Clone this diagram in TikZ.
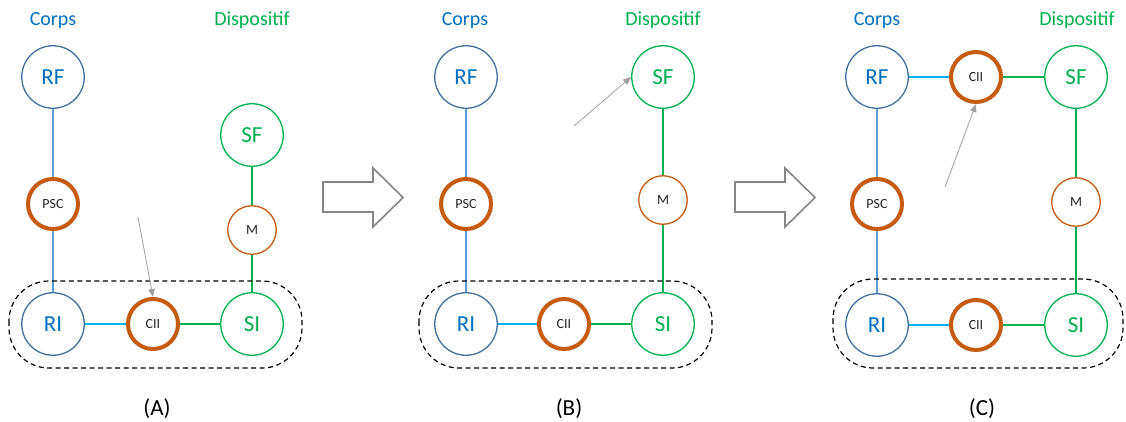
\documentclass[tikz,border=0pt]{standalone}
\usepackage{fontspec}
\setmainfont{Carlito}
\usetikzlibrary{arrows.meta,backgrounds}
\definecolor{cblue}{HTML}{0070C0}
\definecolor{cstroke}{HTML}{41719C}
\definecolor{cvline}{HTML}{5B9BD5}
\definecolor{clight}{HTML}{00B0F0}
\definecolor{cgreen}{HTML}{00B050}
\definecolor{corange}{HTML}{C55A11}
\definecolor{ctext}{HTML}{262626}
\tikzset{
  bignode/.style={circle,draw,fill=white,inner sep=0pt,minimum size=62.5pt,line width=1.3pt,font=\fontsize{23}{26}\selectfont},
  corpsnode/.style={bignode,draw=cstroke,text=cblue},
  devnode/.style={bignode,draw=cgreen,text=cgreen},
  interface/.style={circle,draw=corange,fill=white,inner sep=0pt,minimum size=50pt,line width=4pt,text=ctext,font=\fontsize{14}{16}\selectfont},
  mnode/.style={circle,draw=corange,fill=white,inner sep=0pt,minimum size=48.5pt,line width=1.3pt,text=ctext,font=\fontsize{14}{16}\selectfont},
  vblue/.style={draw=cvline,line width=1.5pt},
  hblue/.style={draw=clight,line width=2.5pt},
  hgreen/.style={draw=cgreen,line width=2.5pt},
  vgreen/.style={draw=cgreen,line width=2pt},
  zone/.style={draw=black,line width=1.2pt,dash pattern=on 5pt off 3.5pt,rounded corners=40pt},
  pointer/.style={draw=gray!75,line width=0.8pt,-{Triangle[length=8pt,width=6.5pt]}},
  bigarrow/.style={draw=gray!95,line width=1.6pt,line join=miter,fill=white},
  head/.style={font=\fontsize{20}{24}\selectfont,anchor=base},
  caption/.style={font=\fontsize{23}{26}\selectfont,anchor=base,text=black},
}
\begin{document}
\begin{tikzpicture}[x=1pt,y=-1pt]
\useasboundingbox (0,0) rectangle (1126,421);
% ---------- Panel A ----------
\node[head,text=cblue] (hA1) at (53,25) {Corps};
\node[head,text=cgreen] (hA2) at (252,25) {Dispositif};
\node[corpsnode] (RFa) at (53,77) {RF};
\node[interface] (PSCa) at (53,204) {PSC};
\node[corpsnode] (RIa) at (53,324) {RI};
\node[interface] (CIIa) at (153,324) {CII};
\node[devnode] (SIa) at (252,324) {SI};
\node[devnode] (SFa) at (252,135) {SF};
\node[mnode] (Ma) at (252,230) {M};
\coordinate (pa) at (138,217);
\node[caption] (capA) at (157,415) {(A)};
% ---------- Panel B ----------
\node[head,text=cblue] (hB1) at (465,25) {Corps};
\node[head,text=cgreen] (hB2) at (663,25) {Dispositif};
\node[corpsnode] (RFb) at (466,77) {RF};
\node[interface] (PSCb) at (466,204) {PSC};
\node[corpsnode] (RIb) at (466,324) {RI};
\node[interface] (CIIb) at (564,324) {CII};
\node[devnode] (SIb) at (663,324) {SI};
\node[devnode] (SFb) at (663,77) {SF};
\node[mnode] (Mb) at (663,200) {M};
\coordinate (pb) at (574,126);
\node[caption] (capB) at (569,415) {(B)};
% ---------- Panel C ----------
\node[head,text=cblue] (hC1) at (877,25) {Corps};
\node[head,text=cgreen] (hC2) at (1077,25) {Dispositif};
\node[corpsnode] (RFc) at (877,77) {RF};
\node[interface] (CIItc) at (976,77) {CII};
\node[devnode] (SFc) at (1076,77) {SF};
\node[interface] (PSCc) at (877,204) {PSC};
\node[mnode] (Mc) at (1076,202) {M};
\node[corpsnode] (RIc) at (877,325) {RI};
\node[interface] (CIIc) at (976,325) {CII};
\node[devnode] (SIc) at (1076,325) {SI};
\coordinate (pc) at (945,187);
\node[caption] (capC) at (982,415) {(C)};
% ---------- connectors ----------
\begin{pgfonlayer}{background}
  \draw[vblue] (RFa) -- (PSCa);
  \draw[vblue] (PSCa) -- (RIa);
  \draw[hblue] (RIa) -- (CIIa);
  \draw[hgreen] (CIIa) -- (SIa);
  \draw[vgreen] (SFa) -- (Ma);
  \draw[vgreen] (Ma) -- (SIa);
  \draw[vblue] (RFb) -- (PSCb);
  \draw[vblue] (PSCb) -- (RIb);
  \draw[hblue] (RIb) -- (CIIb);
  \draw[hgreen] (CIIb) -- (SIb);
  \draw[vgreen] (SFb) -- (Mb);
  \draw[vgreen] (Mb) -- (SIb);
  \draw[vblue] (RFc) -- (PSCc);
  \draw[vblue] (PSCc) -- (RIc);
  \draw[hblue] (RIc) -- (CIIc);
  \draw[hgreen] (CIIc) -- (SIc);
  \draw[hblue] (RFc) -- (CIItc);
  \draw[hgreen] (CIItc) -- (SFc);
  \draw[vgreen] (SFc) -- (Mc);
  \draw[vgreen] (Mc) -- (SIc);
\end{pgfonlayer}
% dashed zones
\draw[zone] (9,281) rectangle (302,368);
\draw[zone] (419,281) rectangle (712,368);
\draw[zone] (833,279) rectangle (1123,368);
% pointers
\draw[pointer] (pa) -- (CIIa.north);
\draw[pointer] (pb) -- (SFb.west);
\draw[pointer] (pc) -- (CIItc.south);
% big hollow arrows
\draw[bigarrow] (323,182) -- (373,182) -- (373,168) -- (403,197.5) -- (373,227) -- (373,212) -- (323,212) -- cycle;
\draw[bigarrow] (735,182) -- (785,182) -- (785,168) -- (815,197.5) -- (785,227) -- (785,212) -- (735,212) -- cycle;
\end{tikzpicture}
\end{document}
